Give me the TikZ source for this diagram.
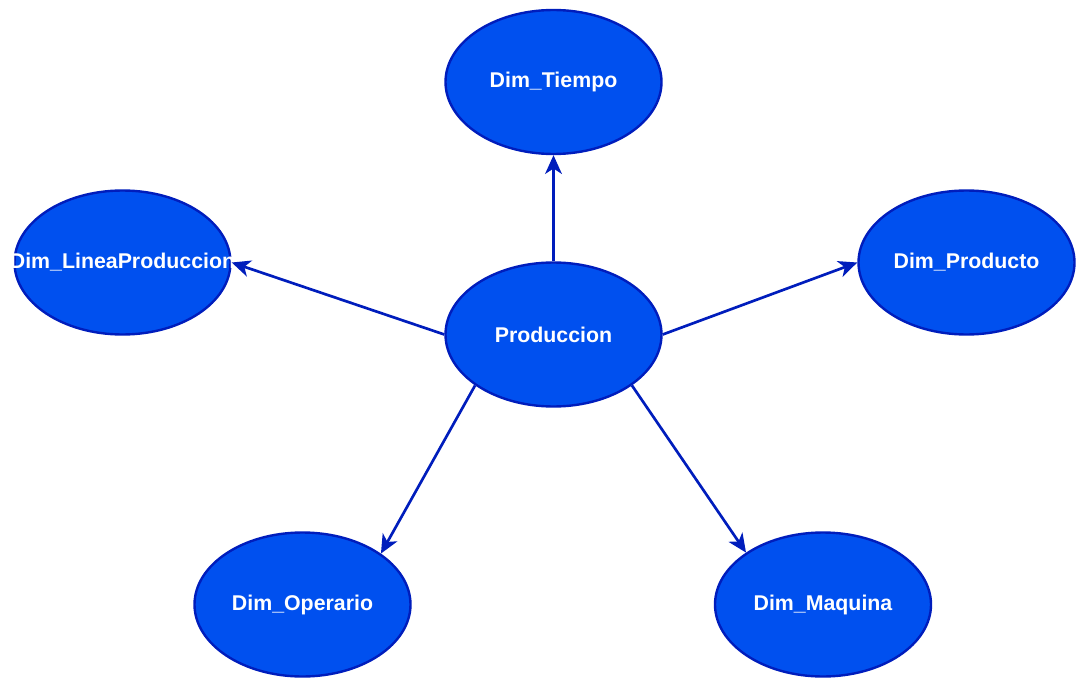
\documentclass[tikz,border=0pt]{standalone}
\usepackage{fontspec}
\setmainfont{Liberation Sans}
\usetikzlibrary{shapes.geometric,arrows.meta}
\definecolor{dimfill}{HTML}{0050EF}
\definecolor{dimline}{HTML}{001DBC}
\tikzset{
  dimnode/.style={ellipse, draw=dimline, fill=dimfill, line width=1.8pt,
    minimum width=162pt, minimum height=108pt, inner sep=0pt,
    text=white, font=\fontsize{16}{19}\selectfont\bfseries},
  link/.style={draw=dimline, line width=2pt,
    -{Stealth[length=14pt, width=12.5pt, inset=4pt]}}
}
\begin{document}
\begin{tikzpicture}[x=0.75pt, y=-0.75pt]
\useasboundingbox (0,0) rectangle (1085,688);
\node[dimnode] (prod) at (553.5,334.5) {Produccion};
\node[dimnode] (tiempo) at (553.5,82) {Dim\_Tiempo};
\node[dimnode] (linea) at (122.5,262.5) {\makebox[0pt]{Dim\_LineaProduccion}};
\node[dimnode] (producto) at (966.5,262.5) {Dim\_Producto};
\node[dimnode] (operario) at (302.5,604.5) {Dim\_Operario};
\node[dimnode] (maquina) at (823,604.5) {Dim\_Maquina};
\draw[link] (prod.north) -- (tiempo.south);
\draw[link] (prod.west) -- (linea.east);
\draw[link] (prod.east) -- (producto.west);
\draw[link] (prod.213.7) -- (operario.33.7);
\draw[link] (prod.-33.7) -- (maquina.146.3);
\end{tikzpicture}
\end{document}
